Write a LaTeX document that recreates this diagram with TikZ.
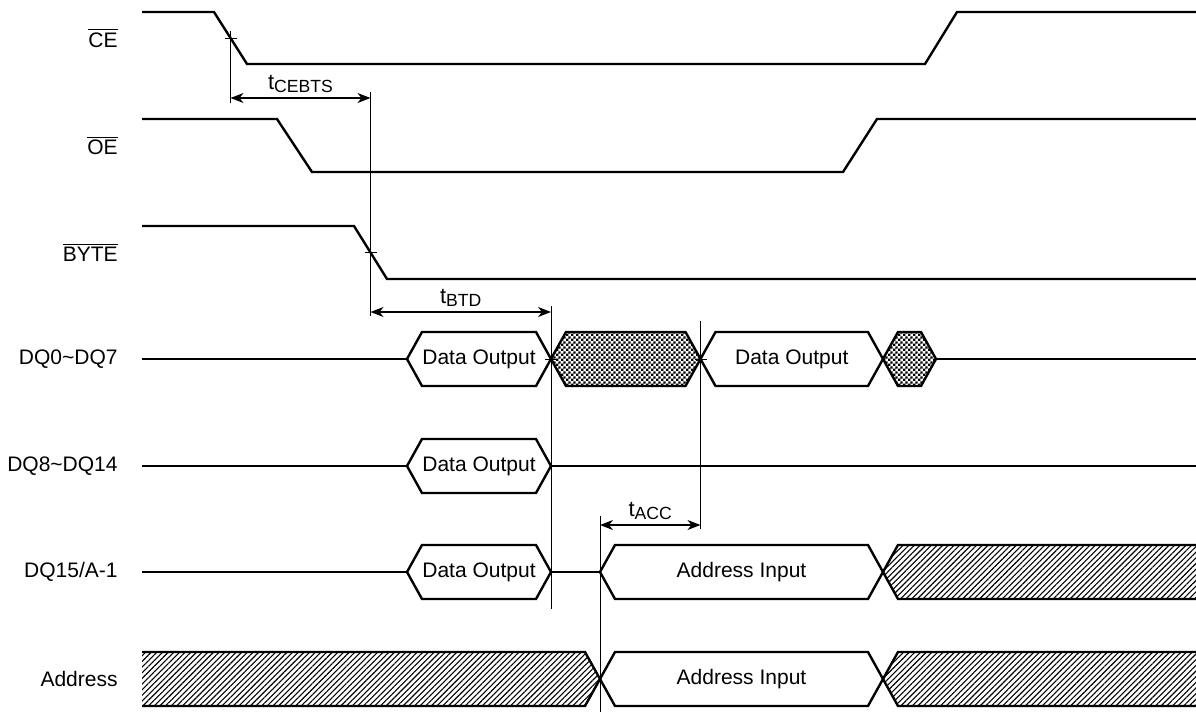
\documentclass[tikz,border=0pt]{standalone}
\usepackage{fontspec}
\setmainfont{Liberation Sans}
\usetikzlibrary{arrows.meta, patterns, patterns.meta, positioning, calc}

\pgfdeclarepatternformonly{checker}{\pgfpointorigin}{\pgfqpoint{2.6pt}{2.6pt}}{\pgfqpoint{2.6pt}{2.6pt}}{%
  \pgfpathrectangle{\pgfpointorigin}{\pgfqpoint{1.3pt}{1.3pt}}%
  \pgfpathrectangle{\pgfqpoint{1.3pt}{1.3pt}}{\pgfqpoint{1.3pt}{1.3pt}}%
  \pgfusepath{fill}}

\newcommand{\tsub}[1]{\raisebox{-0.25ex}{\fontsize{8.8}{10}\selectfont #1}}
% bus cell: style, x left, x right, y, node name, text
\newcommand{\hexbus}[6][]{%
  \draw[sig,#1] (#2,#4) -- ++(15,-27) -- ({#3-15},{#4-27}) -- (#3,#4)
    -- ({#3-15},{#4+27}) -- ({#2+15},{#4+27}) -- cycle;
  \node[txt] (#5) at ({(#2+#3)/2},#4) {#6};}

\tikzset{
  sig/.style={line width=1.2pt},
  refl/.style={line width=0.5pt},
  dim/.style={<->, line width=0.6pt},
  txt/.style={inner sep=0pt, font=\fontsize{10.5}{12}\selectfont},
  lbl/.style={txt, anchor=east},
  tlbl/.style={above=2.5pt, inner sep=0pt, font=\fontsize{11}{12}\selectfont},
  hatch/.style={pattern={Lines[angle=45,distance=2pt,line width=0.55pt]}},
  chk/.style={pattern=checker},
}

\begin{document}
\begin{tikzpicture}[x=0.5pt, y=-0.5pt, >={Stealth[length=6.5pt,width=5pt,inset=2pt]}]
  \useasboundingbox (0,0) rectangle (1196,713);

  % signal names
  \node[lbl] (ce) at (118,38) {$\overline{\mbox{CE}}$};
  \node[lbl] (oe) at (118,145.5) {$\overline{\mbox{OE}}$};
  \node[lbl] (byte) at (118,252.5) {$\overline{\mbox{BYTE}}$};
  \node[lbl] (dqlo) at (118,359) {DQ0\textasciitilde DQ7};
  \node[lbl] (dqhi) at (118,466) {DQ8\textasciitilde DQ14};
  \node[lbl] (dq15) at (118,572) {DQ15/A-1};
  \node[lbl] (addr) at (118,679) {Address};

  % control lines
  \draw[sig] (142,12) -- (214,12) -- (247,64) -- (925,64) -- (957,12) -- (1196,12);
  \draw[sig] (142,119) -- (277,119) -- (312,172) -- (843,172) -- (877,119) -- (1196,119);
  \draw[sig] (142,226) -- (354,226) -- (387,279) -- (1196,279);

  % DQ0~DQ7
  \draw[sig] (142,359) -- (407,359);
  \hexbus{407}{551}{359}{dqa}{Data Output}
  \hexbus[chk]{551}{700.5}{359}{dqb}{}
  \hexbus{700.5}{883}{359}{dqc}{Data Output}
  \hexbus[chk]{883}{936}{359}{dqd}{}
  \draw[sig] (936,359) -- (1196,359);

  % DQ8~DQ14
  \draw[sig] (142,466) -- (407,466);
  \hexbus{407}{551}{466}{dqe}{Data Output}
  \draw[sig] (551,466) -- (1196,466);

  % DQ15/A-1
  \draw[sig] (142,572) -- (407,572);
  \hexbus{407}{551}{572}{dqf}{Data Output}
  \draw[sig] (551,572) -- (600,572);
  \hexbus{600}{883}{572}{dqg}{Address Input}
  \draw[sig,hatch] (1196,545) -- (898,545) -- (883,572) -- (898,599) -- (1196,599);

  % Address
  \draw[sig,hatch] (142,652) -- (585,652) -- (600,679) -- (585,706) -- (142,706);
  \hexbus{600}{883}{679}{adg}{Address Input}
  \draw[sig,hatch] (1196,652) -- (898,652) -- (883,679) -- (898,706) -- (1196,706);

  % timing references
  \coordinate (xce) at (230.5,38);
  \coordinate (xbyte) at (370.5,252.5);
  \coordinate (xd1) at (551,359);
  \coordinate (xd2) at (700.5,359);
  \coordinate (xa) at (600,679);

  \foreach \p in {xce, xbyte, xd1, xd2}
    \draw[refl] (\p) ++(-6,0) -- ++(12,0);

  \draw[refl] (xce |- 0,31) -- (xce |- 0,103);
  \draw[refl] (xbyte |- 0,92) -- (xbyte |- 0,316);
  \draw[refl] (xd1 |- 0,306) -- (xd1 |- 0,609);
  \draw[refl] (xd2 |- 0,321) -- (xd2 |- 0,529);
  \draw[refl] (xa |- 0,516) -- (xa |- 0,712);

  \draw[dim] (xce |- 0,98) -- node[tlbl] (tcebts) {t\tsub{CEBTS}} (xbyte |- 0,98);
  \draw[dim] (xbyte |- 0,312) -- node[tlbl] (tbtd) {t\tsub{BTD}} (xd1 |- 0,312);
  \draw[dim] (xa |- 0,525) -- node[tlbl] (tacc) {t\tsub{ACC}} (xd2 |- 0,525);
\end{tikzpicture}
\end{document}
